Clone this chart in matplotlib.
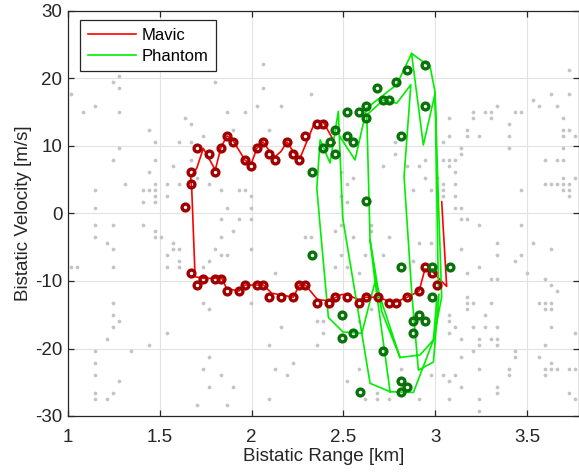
import numpy as np
import matplotlib
matplotlib.use("Agg")
import matplotlib.pyplot as plt

plt.rcParams['font.family'] = ['Liberation Sans', 'DejaVu Sans']
plt.rcParams['axes.unicode_minus'] = False

# Radar cell sizes (range / Doppler-velocity resolution)
RANGE_CELL_KM = 0.0327
VEL_CELL_MS = 0.885

# Background clutter detections, as (range cell, velocity cell) indices
clutter_cells = [
    (39, 23), (38, 22), (39, 21), (31, 20), (55, 22), (35, 18), (33, 17), (39, 17), (57, 17), (60, 17), (62, 18),
    (50, 16), (51, 15), (44, 14), (53, 13), (45, 12), (49, 12), (51, 12), (39, 11), (38, 9), (45, 9), (51, 9),
    (48, 8), (44, 7), (52, 6), (40, 5), (45, 5), (47, 5), (49, 5), (35, 4), (43, 4), (44, 4), (45, 4), (45, 3),
    (47, 3), (43, 2), (45, 2), (35, 1), (35, -2), (38, -2), (43, -2), (45, -3), (35, -4), (45, -4), (46, -4),
    (37, -5), (48, -5), (38, -6), (48, -6), (47, -7), (49, -8), (31, -9), (32, -9), (38, -9), (47, -9), (49, -9),
    (53, -15), (38, -15), (38, -17), (39, -18), (38, -19), (47, -20), (37, -21), (44, -22), (35, -23), (41, -23),
    (54, -24), (35, -25), (53, -26), (35, -27), (39, -28), (54, -29), (35, -30), (38, -30), (35, -31), (37, -31),
    (52, -32),
    (63, 25), (63, 21), (71, 20), (66, 18), (64, 14), (58, 14), (54, 5), (56, 4), (59, 4), (60, 4), (61, 3),
    (57, 1), (61, 1), (76, 7), (77, 5), (78, 6), (76, 3), (77, 2), (83, 8), (85, 12), (85, 10), (87, 8), (88, 4),
    (89, 8), (90, 9), (90, 6), (91, 4), (92, 6), (93, 3),
    (56, -4), (56, -7), (57, -7), (55, -6), (54, -8), (53, -9), (49, -6),
    (56, -1), (59, -1), (61, -1), (58, -3), (61, -6), (65, -10), (54, -16), (61, -15), (66, -19), (64, -22),
    (72, -22), (68, -25), (56, -27), (65, -26), (67, -27), (58, -29), (64, -31), (57, -32), (70, -4), (71, -4),
    (72, -18), (73, -18), (73, -20), (75, -3), (76, -2), (76, -7), (75, -9), (77, -9), (78, -4), (80, -7),
    (81, -2), (81, -3), (83, -7), (84, -4), (82, -13), (79, -10), (79, -18), (81, -16), (77, -28), (79, -26),
    (80, -31), (82, -30), (82, -31), (84, -31), (86, -26), (89, -31), (91, -27), (89, -5), (91, -5), (88, -8),
    (114, 24), (111, 20), (114, 20), (108, 19), (109, 18), (112, 18), (102, 18), (98, 17), (100, 17), (101, 17),
    (105, 17), (106, 17), (94, 16), (98, 16), (101, 16), (113, 16), (104, 15), (97, 14), (113, 14), (114, 14),
    (94, 13), (97, 13), (99, 13), (104, 13), (113, 13), (115, 13), (93, 12), (104, 11), (113, 11), (96, 10),
    (96, 11), (93, 9), (94, 9), (95, 9), (110, 9), (112, 9), (113, 9), (94, 8), (95, 7), (113, 6), (115, 6),
    (93, 5), (95, 5), (110, 5), (111, 5), (112, 5), (113, 5), (114, 5), (93, 4), (106, 4), (113, 4), (114, 4),
    (95, 3), (114, 3), (95, 1), (96, 1), (96, -1), (97, -1), (99, -2), (106, -2), (102, -5), (108, -5),
    (111, -6), (96, -6), (102, -7), (106, -7), (105, -8), (99, -9), (107, -10), (97, -10), (101, -11),
    (102, -11), (110, -11), (111, -12), (112, -13), (97, -14), (97, -15), (98, -15), (101, -15), (109, -15),
    (110, -15), (111, -15), (97, -16), (110, -16), (111, -16), (94, -17), (100, -17), (94, -18), (95, -19),
    (98, -19), (100, -19), (102, -19), (111, -19), (94, -20), (115, -20), (96, -21), (99, -21), (101, -21),
    (102, -21), (99, -22), (102, -22), (110, -22), (98, -23), (105, -23), (96, -24), (105, -24), (109, -24),
    (111, -25), (99, -26), (104, -26), (110, -26), (111, -26), (112, -26), (114, -26), (115, -26), (93, -27),
    (95, -27), (104, -27), (110, -27), (94, -28), (96, -29), (102, -29), (102, -30), (114, -30), (94, -31),
    (99, -31), (115, -31), (99, -33),
]

# Mavic: detections (km, m/s)
mavic_det_range = [
    1.636, 1.668, 1.668, 1.701, 1.770, 1.801, 1.833, 1.866, 1.899, 1.964, 1.997, 2.029, 2.062, 2.096, 2.127,
    2.193, 2.225, 2.260, 2.291, 2.358, 2.391,
    1.668, 1.701, 1.735, 1.801, 1.833, 1.866, 1.931, 1.964, 2.029, 2.062, 2.096, 2.160, 2.225, 2.260, 2.291,
    2.358, 2.423, 2.456, 2.522, 2.585, 2.621, 2.687, 2.750, 2.787, 2.848, 2.912, 2.944, 2.980, 3.010,
]
mavic_det_vel = [
    0.96, 4.44, 6.15, 9.70, 8.81, 6.15, 9.70, 11.48, 10.59, 7.93, 7.04, 9.70, 10.59, 8.81, 7.93,
    10.59, 8.81, 7.93, 11.48, 13.26, 13.26,
    -8.81, -10.59, -9.70, -9.70, -9.70, -11.48, -11.48, -10.59, -10.59, -10.59, -12.41, -12.41, -12.41, -10.59,
    -10.59, -13.30, -13.30, -12.41, -12.41, -13.30, -12.41, -12.41, -13.30, -13.30, -12.41, -11.48, -7.93,
    -8.81, -10.59,
]

# Mavic: track
mavic_trk_range = [
    2.454, 2.389, 2.345, 2.262, 2.225, 2.193, 2.160, 2.127, 2.096, 2.062, 2.029, 1.997, 1.964, 1.899, 1.866,
    1.833, 1.802, 1.737, 1.701, 1.668, 1.674, 1.692, 1.737, 1.837, 1.864, 1.931, 1.964, 2.064, 2.109, 2.227,
    2.260, 2.293, 2.360, 2.423, 2.490, 2.520, 2.585, 2.621, 2.687, 2.750, 2.787, 2.848, 2.912, 2.944, 2.985,
    3.015, 3.062, 3.035,
]
mavic_trk_vel = [
    10.44, 13.6, 13.6, 8.1, 9.2, 10.6, 9.2, 8.4, 9.3, 10.6, 9.7, 7.3, 7.9, 10.8, 11.5,
    9.8, 6.45, 9.65, 6.7, 5.45, 3.5, -9.37, -9.6, -9.6, -11.1, -11.5, -10.6, -10.6, -11.8, -12.4,
    -10.6, -10.6, -12.8, -12.9, -12.0, -12.0, -12.8, -12.4, -12.4, -13.0, -13.1, -12.4, -11.5, -8.2, -8.6,
    -9.5, -10.8, 1.75,
]

# Phantom: detections (km, m/s)
phantom_det_range = [
    2.327, 2.391, 2.427, 2.454, 2.454, 2.520, 2.520, 2.554, 2.587, 2.621, 2.621, 2.621, 2.685, 2.717, 2.750,
    2.786, 2.815, 2.848, 2.946, 2.946,
    2.327, 2.491, 2.491, 2.554, 2.590, 2.717, 2.815, 2.815, 2.815, 2.848, 2.881, 2.881, 2.913, 2.946, 2.980,
    2.980, 3.080,
]
phantom_det_vel = [
    6.15, 9.70, 10.55, 12.41, 8.86, 14.99, 11.53, 10.55, 14.99, 15.88, 14.15, 1.81, 18.59, 16.86, 16.86,
    19.48, 11.53, 21.21, 22.04, 15.88,
    -6.15, -15.04, -18.49, -17.65, -26.49, -20.37, -7.97, -24.77, -26.49, -25.66, -15.93, -17.65, -15.04,
    -15.93, -7.88, -12.41, -7.97,
]

# Phantom: track (NaN separates track pieces)
nan = np.nan
phantom_trk_range = [
    3.008, 2.990, 2.917, 2.808, 2.672, 2.600, 2.498, 2.418, 2.369, 2.355, 2.373, 2.427, 2.472, 2.496, 2.645,
    2.754, 2.881, 2.990, 3.035, 3.017, 2.999, 2.935, 2.871, 2.972, 2.999, 3.017, nan,
    2.481, 2.563, 2.627, 2.709, 2.790, 2.871, nan,
    2.672, 2.645, 2.627, 2.717, 2.790, 2.867, 2.830, 2.845, 2.872, 2.908, 2.990, 3.020, nan,
    2.672, 2.754, nan,
    2.645, 2.709, 2.808,
]
phantom_trk_vel = [
    -12.8, -18.74, -20.96, -21.33, -10.10, -17.75, -17.56, -15.41, -0.67, 3.78, 10.93, 7.48, 15.14, -0.67, -25.16,
    -26.40, -26.52, -18.74, -12.33, 2.0, 17.81, 10.15, 23.70, 21.75, 18.0, -11.3, nan,
    11.38, 7.93, 15.63, 17.36, 19.08, 23.70, nan,
    -10.10, -3.93, 14.6, 16.81, 16.33, 19.08, 5.45, -0.67, -11.8, -23.2, -22.0, -12.0, nan,
    -10.10, -26.40, nan,
    -3.93, -14.55, -21.33,
]

W, H = 579, 472
fig = plt.figure(figsize=(W / 100, H / 100), dpi=100)
ax = fig.add_axes([68 / W, 1 - 416 / H, 510.5 / W, 405 / H])

cells = np.array(clutter_cells, dtype=float)
ax.plot(cells[:, 0] * RANGE_CELL_KM, cells[:, 1] * VEL_CELL_MS, linestyle='none', marker='o',
        markersize=2.7, markerfacecolor='#c4c4c4', markeredgecolor='none', zorder=1)

mav_line, = ax.plot(mavic_trk_range, mavic_trk_vel, color='#ff0000', linewidth=1.2, zorder=3, label='Mavic')
ax.plot(mavic_det_range, mavic_det_vel, linestyle='none', marker='o', markersize=4.9,
        markerfacecolor='none', markeredgecolor='#a00000', markeredgewidth=2.4, zorder=4)

ph_line, = ax.plot(phantom_trk_range, phantom_trk_vel, color='#00ee00', linewidth=1.2, zorder=3, label='Phantom')
ax.plot(phantom_det_range, phantom_det_vel, linestyle='none', marker='o', markersize=4.9,
        markerfacecolor='none', markeredgecolor='#0a720a', markeredgewidth=2.4, zorder=4)

ax.set_xlim(1, 3.78)
ax.set_ylim(-30, 30)
ax.set_xticks([1, 1.5, 2, 2.5, 3, 3.5])
ax.set_xticklabels(['1', '1.5', '2', '2.5', '3', '3.5'])
ax.set_yticks([-30, -20, -10, 0, 10, 20, 30])

ax.grid(True, color='#e2e2e2', linewidth=0.8, zorder=0)
ax.set_axisbelow(True)
for s in ax.spines.values():
    s.set_color('#262626')
    s.set_linewidth(0.9)
ax.tick_params(direction='in', length=4, width=0.9, top=True, right=True, colors='#262626',
               labelsize=13.5)
ax.tick_params(axis='x', pad=9)
ax.tick_params(axis='y', pad=4)

ax.set_xlabel('Bistatic Range [km]', fontsize=13.5, color='#262626', labelpad=2)
ax.set_ylabel('Bistatic Velocity [m/s]', fontsize=13.5, color='#262626', labelpad=2)

leg = ax.legend(handles=[mav_line, ph_line], loc='upper left', bbox_to_anchor=(12 / 510.5, 1 - 9.5 / 405),
                fontsize=12, frameon=True, fancybox=False, edgecolor='#262626', framealpha=1,
                handlelength=2.9, handletextpad=0.35, borderpad=0.45, labelspacing=0.35, borderaxespad=0)
leg.get_frame().set_linewidth(0.9)

fig.savefig('out.png', dpi=100)
